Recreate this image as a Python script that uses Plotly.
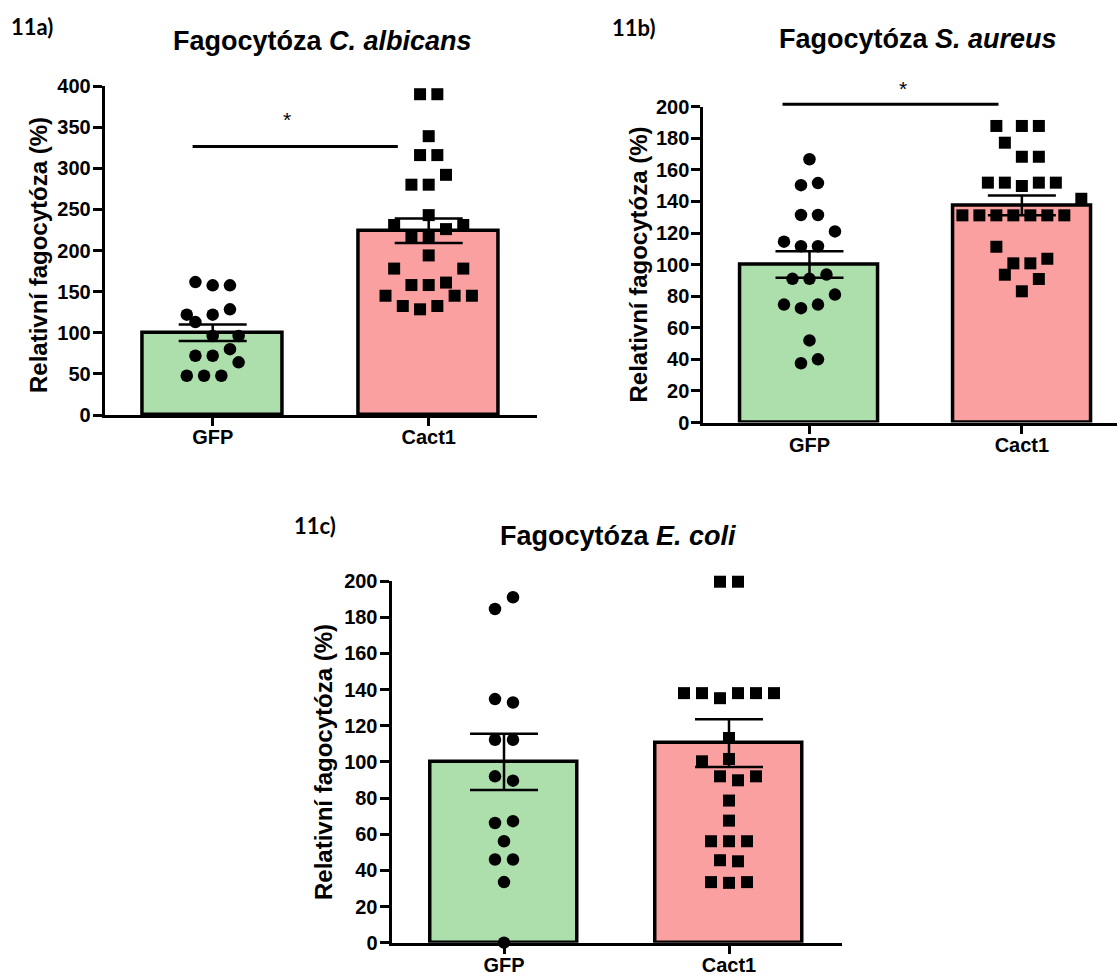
import plotly.graph_objects as go

W, H = 1117, 976

categories = ["GFP", "Cact1"]
bar_colors = ["#ACDFAB", "#FBA0A0"]

# ---- Panel 11a: C. albicans ----
a_gfp_values = [161.6, 157.6, 157.6, 128.5, 122, 122, 113, 96, 96, 80, 72, 72, 64, 47.7, 47.7, 47.7]
a_gfp_slots = [-2, 0, 2, 2, -3, 0, -2, 0, 3, 2, -2, 0, 3, -3, -1, 1]
a_cact_values = [390, 390, 339, 316, 316, 292, 280, 280, 243, 231, 231, 226, 217, 217, 194,
                 178, 178, 158, 158, 161, 145, 145, 145, 132.5, 132.5, 128.5]
a_cact_slots = [-1, 1, 0, -1, 1, 2, -2, 0, 0, -4, 4, 2, -2, 0, 0,
                -4, 4, -2, 0, 2, -5, 3, 5, -3, 1, -1]
a_means = [100, 224]
a_sems = [10, 15]
a_yticks = [0, 50, 100, 150, 200, 250, 300, 350, 400]
a_sig = dict(x0=-0.093, x1=0.857, y=326.5, star_x=0.345, star_y=358.7)

# ---- Panel 11b: S. aureus ----
b_gfp_values = [166.7, 150.3, 151.6, 131.4, 131.4, 121, 114.5, 111.6, 111.6, 91, 91, 93.7,
                81, 74.7, 74.7, 72.4, 52, 37.5, 40]
b_gfp_slots = [0, -1, 1, -1, 1, 3, -3, -1, 1, -2, 0, 2, 3, -3, 1, -1, 0, -1, 1]
b_cact_values = [187.8, 187.8, 187.8, 177.2, 168.3, 168.3, 151.9, 151.9, 149.8, 151.9, 151.9,
                 141.7, 131.2, 131.2, 131.2, 131.2, 131.2, 131.2, 131.2,
                 111.3, 100.8, 100.8, 103.7, 93.6, 90.9, 83.1]
b_cact_slots = [-3, 0, 2, -2, 0, 2, -4, -2, 0, 2, 4,
                7, -7, -5, -3, -1, 1, 3, 5,
                -3, -1, 1, 3, -2, 2, 0]
b_means = [100, 137.5]
b_sems = [8.4, 6.3]
b_yticks = [0, 20, 40, 60, 80, 100, 120, 140, 160, 180, 200]
b_sig = dict(x0=-0.127, x1=0.89, y=201.6, star_x=0.44, star_y=211.6)

# ---- Panel 11c: E. coli ----
c_gfp_values = [191, 184.5, 134.7, 132.8, 112.2, 112.2, 92, 89.6, 66.2, 67.2, 56.1, 46, 46, 33.5, 0]
c_gfp_slots = [1, -1, -1, 1, -1, 1, -1, 1, -1, 1, 0, -1, 1, 0, 0]
c_cact_values = [199.6, 199.6, 138, 138, 135.2, 138, 138, 138, 113.2, 100.3, 101.6, 92, 89.8, 92,
                 78.6, 67.5, 56.1, 56.1, 56.1, 45.6, 45, 33.5, 33.1, 33.5]
c_cact_slots = [-1, 1, -5, -3, -1, 1, 3, 5, 0, -3, 0, -1, 1, 3,
                0, 0, -2, 0, 2, -1, 1, -2, 0, 2]
c_means = [100, 110.4]
c_sems = [15.6, 13.2]
c_yticks = [0, 20, 40, 60, 80, 100, 120, 140, 160, 180, 200]

panel_labels = ["11a)", "11b)", "11c)"]
titles = ["Fagocytóza <i>C. albicans</i>", "Fagocytóza <i>S. aureus</i>", "Fagocytóza <i>E. coli</i>"]
y_title = "Relativní fagocytóza (%)"

SLOT = 0.04
FONT = "Liberation Sans, Arial, Helvetica, sans-serif"


def px(p):
    return p / W


def py(p):
    return 1 - p / H


panels = [
    dict(gfp=a_gfp_values, gfps=a_gfp_slots, cact=a_cact_values, cacts=a_cact_slots,
         means=a_means, sems=a_sems, yticks=a_yticks, sig=a_sig,
         x0=104.7, x1=536.7, y0=86, y1=415, xr=[-0.5, 1.5], yr=[0, 400],
         title_xy=(322.5, 41), label_xy=(9, 27), ytitle_xy=(39, 255)),
    dict(gfp=b_gfp_values, gfps=b_gfp_slots, cact=b_cact_values, cacts=b_cact_slots,
         means=b_means, sems=b_sems, yticks=b_yticks, sig=b_sig,
         x0=703.3, x1=1117, y0=106.7, y1=422.5, xr=[-0.5, 1.448], yr=[0, 200],
         title_xy=(918, 39), label_xy=(610, 27.5), ytitle_xy=(638, 264.5)),
    dict(gfp=c_gfp_values, gfps=c_gfp_slots, cact=c_cact_values, cacts=c_cact_slots,
         means=c_means, sems=c_sems, yticks=c_yticks, sig=None,
         x0=391.5, x1=841.5, y0=581, y1=942.7, xr=[-0.5, 1.5], yr=[0, 200],
         title_xy=(617.5, 536), label_xy=(292, 525), ytitle_xy=(323, 762)),
]

fig = go.Figure()
shapes = []
annotations = []

for i, p in enumerate(panels):
    n = "" if i == 0 else str(i + 1)
    xa, ya = "x" + n, "y" + n
    xr, yr = p["xr"], p["yr"]

    def fx(v, xr=xr):
        return (v - xr[0]) / (xr[1] - xr[0])

    def fy(v, yr=yr):
        return (v - yr[0]) / (yr[1] - yr[0])

    fig.add_trace(go.Bar(
        x=[0, 1], y=p["means"], width=0.65, xaxis=xa, yaxis=ya,
        marker=dict(color=bar_colors, line=dict(color="black", width=3.5)),
        error_y=dict(type="data", array=p["sems"], visible=True,
                     color="black", thickness=2.5, width=34),
        showlegend=False, hoverinfo="skip",
    ))
    fig.add_trace(go.Scatter(
        x=[0 + s * SLOT for s in p["gfps"]], y=p["gfp"], mode="markers",
        xaxis=xa, yaxis=ya, cliponaxis=False,
        marker=dict(symbol="circle", size=12.5, color="black", line=dict(width=0)),
        showlegend=False,
    ))
    fig.add_trace(go.Scatter(
        x=[1 + s * SLOT for s in p["cacts"]], y=p["cact"], mode="markers",
        xaxis=xa, yaxis=ya, cliponaxis=False,
        marker=dict(symbol="square", size=12, color="black", line=dict(width=0)),
        showlegend=False,
    ))

    axis_common = dict(showgrid=False, zeroline=False, showline=True, linecolor="black",
                       linewidth=3, ticks="outside", tickcolor="black", tickwidth=2.5,
                       automargin=False,
                       tickfont=dict(family=FONT, size=20, color="black", weight="bold"))
    fig.layout["xaxis" + n] = dict(
        domain=[px(p["x0"]), min(1.0, px(p["x1"]))], range=xr, anchor=ya,
        tickvals=[0, 1], ticktext=categories, ticklen=8, ticklabelstandoff=-6,
        **axis_common)
    fig.layout["yaxis" + n] = dict(
        domain=[py(p["y1"]), py(p["y0"])], range=yr, anchor=xa,
        tickvals=p["yticks"], ticklen=9, ticklabelstandoff=-2, **axis_common)

    if p["sig"] is not None:
        s = p["sig"]
        shapes.append(dict(type="line", xref=xa + " domain", yref=ya + " domain",
                           x0=fx(s["x0"]), x1=fx(s["x1"]), y0=fy(s["y"]), y1=fy(s["y"]),
                           line=dict(color="black", width=3)))
        annotations.append(dict(xref=xa + " domain", yref=ya + " domain",
                                x=fx(s["star_x"]), y=fy(s["star_y"]), text="*",
                                showarrow=False, font=dict(family=FONT, size=21, color="black"),
                                xanchor="center", yanchor="middle"))

    tx, ty = p["title_xy"]
    annotations.append(dict(xref="paper", yref="paper", x=px(tx), y=py(ty), text=titles[i],
                            showarrow=False, xanchor="center", yanchor="middle",
                            font=dict(family=FONT, size=27, color="black", weight="bold")))
    lx, ly = p["label_xy"]
    annotations.append(dict(xref="paper", yref="paper", x=px(lx), y=py(ly), text=panel_labels[i],
                            showarrow=False, xanchor="left", yanchor="middle",
                            font=dict(family="Lato, Open Sans, sans-serif", size=22,
                                      color="black", weight="bold")))
    yx, yy = p["ytitle_xy"]
    annotations.append(dict(xref="paper", yref="paper", x=px(yx), y=py(yy), text=y_title,
                            showarrow=False, textangle=-90, xanchor="center", yanchor="middle",
                            font=dict(family=FONT, size=24, color="black", weight="bold")))

fig.update_layout(
    template="none",
    width=W, height=H, margin=dict(l=0, r=0, t=0, b=0, pad=0), autosize=False,
    paper_bgcolor="white", plot_bgcolor="white",
    shapes=shapes, annotations=annotations, showlegend=False, bargap=0,
)

fig.write_html("out.html")
